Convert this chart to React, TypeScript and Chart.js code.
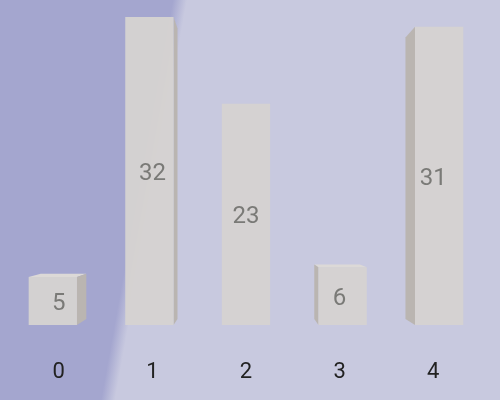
import React, { useEffect, useRef } from "react";
import { Chart, registerables } from "chart.js";

Chart.register(...registerables);

const categories = ["0", "1", "2", "3", "4"];
const values = [5, 32, 23, 6, 31];
const yMax = 32;

const bgPlugin = {
  id: "bgGrad",
  beforeDraw(chart: any) {
    const { ctx, width, height } = chart;
    const mx = 144, my = 200, nx = 0.984, ny = 0.177, d = 7;
    const g = ctx.createLinearGradient(mx - d * nx, my - d * ny, mx + d * nx, my + d * ny);
    g.addColorStop(0, "#a4a6cf");
    g.addColorStop(1, "#c8c9df");
    ctx.save();
    ctx.fillStyle = g;
    ctx.fillRect(0, 0, width, height);
    ctx.restore();
  },
};

const PERSP = 1.032;

const boxPlugin = {
  id: "boxSides",
  beforeDatasetsDraw(chart: any) {
    const { ctx, chartArea } = chart;
    const cx = (chartArea.left + chartArea.right) / 2;
    ctx.save();
    // perspective: front faces spread slightly away from the centre
    ctx.translate(cx, 0);
    ctx.scale(PERSP, 1);
    ctx.translate(-cx, 0);
    const meta = chart.getDatasetMeta(0);
    const vpx = cx - 2, vpy = 220, t = 0.056;
    meta.data.forEach((el: any) => {
      const { x, y, base, width } = el.getProps(["x", "y", "base", "width"], true);
      const l = x - width / 2, r = x + width / 2, top = y, bot = base;
      const bx = (px: number) => px + t * (vpx - px);
      const by = (py: number) => py + t * (vpy - py);
      if (top > vpy) {
        ctx.fillStyle = "#dcd9d7";
        ctx.beginPath();
        ctx.moveTo(l, top);
        ctx.lineTo(r, top);
        ctx.lineTo(bx(r), by(top));
        ctx.lineTo(bx(l), by(top));
        ctx.closePath();
        ctx.fill();
      }
      const side = r < vpx - 2 ? r : l > vpx + 2 ? l : null;
      if (side !== null) {
        ctx.fillStyle = "#bab5b1";
        ctx.beginPath();
        ctx.moveTo(side, top);
        ctx.lineTo(bx(side), by(top));
        ctx.lineTo(bx(side), by(bot));
        ctx.lineTo(side, bot);
        ctx.closePath();
        ctx.fill();
      }
    });
  },
  afterDatasetsDraw(chart: any) {
    const { ctx } = chart;
    ctx.restore();
    const meta = chart.getDatasetMeta(0);
    ctx.save();
    ctx.fillStyle = "#7a7a77";
    ctx.font = "24px Roboto";
    ctx.textAlign = "center";
    ctx.textBaseline = "middle";
    meta.data.forEach((el: any, i: number) => {
      const { x, y, base } = el.getProps(["x", "y", "base"], true);
      ctx.fillText(String(values[i]), x, (y + base) / 2 + 3);
    });
    ctx.restore();
  },
};

export default function App() {
  const ref = useRef<HTMLCanvasElement>(null);
  useEffect(() => {
    document.body.style.margin = "0";
    const chart = new Chart(ref.current!, {
      type: "bar",
      data: {
        labels: categories,
        datasets: [
          {
            data: values,
            backgroundColor: "rgba(214,211,209,0.95)",
            borderWidth: 0,
            barPercentage: 0.5,
            categoryPercentage: 1,
          },
        ],
      },
      options: {
        animation: false,
        responsive: false,
        maintainAspectRatio: false,
        layout: { padding: { left: 12, right: 20, top: 17, bottom: 0 } },
        plugins: { legend: { display: false }, tooltip: { enabled: false } },
        scales: {
          x: {
            grid: { display: false, drawTicks: false },
            border: { display: false },
            ticks: { color: "#222222", font: { family: "Roboto", size: 22 }, padding: 34 },
            afterFit: (s: any) => {
              s.height = 75;
            },
          },
          y: { display: false, min: 0, max: yMax },
        },
      },
      plugins: [bgPlugin, boxPlugin],
    });
    return () => chart.destroy();
  }, []);
  return (
    <div style={{ width: 500, height: 400 }}>
      <canvas ref={ref} width={500} height={400} />
    </div>
  );
}
